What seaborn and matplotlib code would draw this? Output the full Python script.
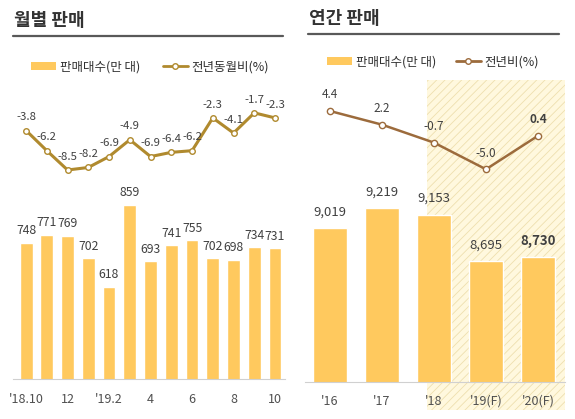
import matplotlib
matplotlib.use("Agg")
import matplotlib.pyplot as plt
import seaborn as sns
import numpy as np
import pandas as pd
from matplotlib.patches import Rectangle, Patch
from matplotlib.lines import Line2D

# ---- data ----
month_labels = ["'18.10", "11", "12", "1", "'19.2", "3", "4", "5", "6", "7", "8", "9", "10"]
month_tick_labels = ["'18.10", "12", "'19.2", "4", "6", "8", "10"]
month_sales = [748, 771, 769, 702, 618, 859, 693, 741, 755, 702, 698, 734, 731]
month_yoy = [-3.8, -6.2, -8.5, -8.2, -6.9, -4.9, -6.9, -6.4, -6.2, -2.3, -4.1, -1.7, -2.3]

year_labels = ["'16", "'17", "'18", "'19(F)", "'20(F)"]
year_sales = [9019, 9219, 9153, 8695, 8730]
year_yoy = [4.4, 2.2, -0.7, -5.0, 0.4]

# ---- style ----
sns.set_style("white")
plt.rcParams['font.family'] = ['Noto Sans CJK KR', 'DejaVu Sans']
plt.rcParams['hatch.linewidth'] = 0.6

W, H = 575, 419
BAR = "#FFC95E"
LINE_M = "#B08A2E"
LINE_Y = "#9C6B3C"
TXT = "#404040"

fig = plt.figure(figsize=(W / 100, H / 100), dpi=100)
fig.patch.set_facecolor("white")


def rect(x0, y0, x1, y1):
    return [x0 / W, 1 - y1 / H, (x1 - x0) / W, (y1 - y0) / H]


def fx(x):
    return x / W


def fy(y):
    return 1 - y / H


# hatched forecast background (behind the axes)
fig.patches.append(Rectangle((fx(427), fy(410)), fx(565) - fx(427), fy(80) - fy(410),
                             transform=fig.transFigure, facecolor="#FFF8DE",
                             edgecolor="#EEDFAE", hatch="////", linewidth=0, zorder=-5))

# titles and underlines
fig.text(fx(14), fy(20), "월별 판매", fontsize=13, fontweight="bold", color="#333333", va="center", ha="left")
fig.text(fx(309), fy(19), "연간 판매", fontsize=13, fontweight="bold", color="#333333", va="center", ha="left")
fig.add_artist(Line2D([fx(13), fx(283)], [fy(36), fy(36)], color="#595959", lw=1.6, transform=fig.transFigure))
fig.add_artist(Line2D([fx(308), fx(559)], [fy(34), fy(34)], color="#595959", lw=1.6, transform=fig.transFigure))

# ---------------- monthly ----------------
dfm = pd.DataFrame({"m": month_labels, "sales": month_sales, "yoy": month_yoy, "pos": np.arange(len(month_labels))})

axb = fig.add_axes(rect(13, 190, 285, 379))
axb.set_facecolor("none")
sns.barplot(data=dfm, x="m", y="sales", color=BAR, saturation=1, width=0.62, ax=axb)
axb.set_ylim(347, 903)
axb.set_xlim(-0.63, 12.48)
for i, v in enumerate(month_sales):
    axb.annotate(f"{v}", (i, v), xytext=(0, 4), textcoords="offset points",
                 ha="center", va="bottom", fontsize=8.8, color=TXT)
axb.set_xticks(range(0, 13, 2))
axb.set_xticklabels(month_tick_labels, fontsize=9, color="#505050")
axb.tick_params(axis="x", length=0, pad=10)
axb.set_yticks([])
axb.set_xlabel("")
axb.set_ylabel("")
for s in ["top", "right", "left"]:
    axb.spines[s].set_visible(False)
axb.spines["bottom"].set_color("#D0D0D0")

axl = fig.add_axes(rect(13, 90, 285, 180))
axl.set_facecolor("none")
sns.lineplot(data=dfm, x="pos", y="yoy", color=LINE_M, lw=2.2, marker="o", markersize=4,
             markerfacecolor="white", markeredgecolor=LINE_M, markeredgewidth=1.0, ax=axl)
axl.set_xlim(-0.63, 12.48)
axl.set_ylim(-9.69, 1.02)
for i, v in enumerate(month_yoy):
    axl.annotate(f"{v}", (i, v), xytext=(0, 6), textcoords="offset points",
                 ha="center", va="bottom", fontsize=8.2, style="italic", color=TXT)
axl.axis("off")

fig.legend(handles=[Patch(facecolor=BAR, edgecolor="none"),
                    Line2D([], [], color=LINE_M, lw=2, marker="o", markersize=4,
                           markerfacecolor="white", markeredgecolor=LINE_M)],
           labels=["판매대수(만 대)", "전년동월비(%)"], loc="center", bbox_to_anchor=(fx(150), fy(67)),
           ncol=2, frameon=False, fontsize=9, handlelength=2.0, handleheight=0.5,
           handletextpad=0.3, columnspacing=1.8, labelcolor="#303030")

# ---------------- yearly ----------------
dfy = pd.DataFrame({"y": year_labels, "sales": year_sales, "yoy": year_yoy, "pos": np.arange(len(year_labels))})

ayb = fig.add_axes(rect(305, 190, 565, 382))
ayb.set_facecolor("none")
sns.barplot(data=dfy, x="y", y="sales", color=BAR, saturation=1, width=0.65, ax=ayb)
ayb.set_ylim(7497, 9398)
ayb.set_xlim(-0.48, 4.52)
for i, v in enumerate(year_sales):
    ayb.annotate(f"{v:,}", (i, v), xytext=(0, 7), textcoords="offset points",
                 ha="center", va="bottom", fontsize=9.5, color=TXT,
                 fontweight="bold" if i == len(year_sales) - 1 else "normal")
ayb.set_xticks(range(len(year_labels)))
ayb.set_xticklabels(year_labels, fontsize=9, color="#505050")
ayb.tick_params(axis="x", length=0, pad=9)
ayb.set_yticks([])
ayb.set_xlabel("")
ayb.set_ylabel("")
for s in ["top", "right", "left"]:
    ayb.spines[s].set_visible(False)
ayb.spines["bottom"].set_color("#D0D0D0")

ayl = fig.add_axes(rect(305, 90, 565, 180))
ayl.set_facecolor("none")
sns.lineplot(data=dfy, x="pos", y="yoy", color=LINE_Y, lw=1.8, marker="o", markersize=4.5,
             markerfacecolor="white", markeredgecolor=LINE_Y, markeredgewidth=1.0, ax=ayl)
ayl.set_xlim(-0.48, 4.52)
ayl.set_ylim(-6.73, 7.79)
for i, v in enumerate(year_yoy):
    ayl.annotate(f"{v}", (i, v), xytext=(0, 7), textcoords="offset points",
                 ha="center", va="bottom", fontsize=8.5, style="italic", color=TXT,
                 fontweight="bold" if i == len(year_yoy) - 1 else "normal")
ayl.axis("off")

fig.legend(handles=[Patch(facecolor=BAR, edgecolor="none"),
                    Line2D([], [], color=LINE_Y, lw=2, marker="o", markersize=4,
                           markerfacecolor="white", markeredgecolor=LINE_Y)],
           labels=["판매대수(만 대)", "전년비(%)"], loc="center", bbox_to_anchor=(fx(433), fy(62)),
           ncol=2, frameon=False, fontsize=9, handlelength=2.0, handleheight=0.5,
           handletextpad=0.3, columnspacing=1.6, labelcolor="#303030")

fig.savefig("out.png", dpi=100)
